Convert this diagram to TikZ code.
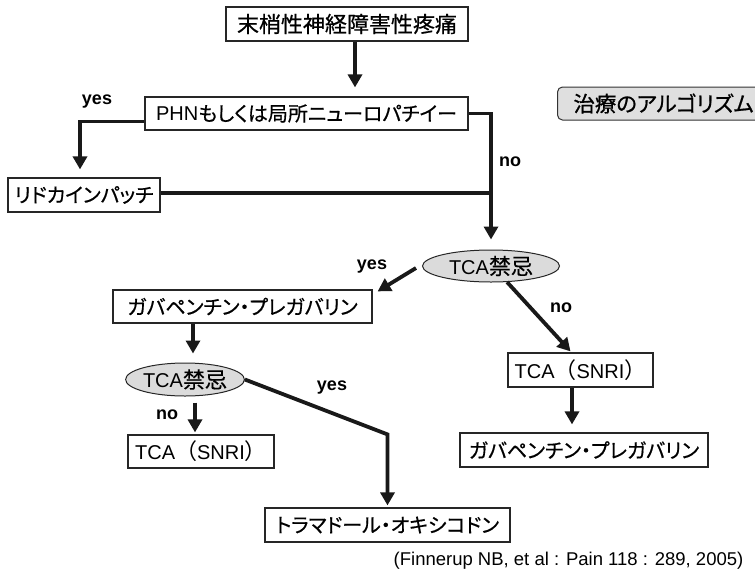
\documentclass[tikz,border=0pt]{standalone}
\usepackage{fontspec}
\setmainfont{Liberation Sans}
\newfontfamily\jp[Scale=1.1,RawFeature=+palt,FakeBold=0.6]{Noto Sans CJK JP}
\newfontfamily\jpk[Scale=1.0,RawFeature=+palt,FakeBold=0.6]{Noto Sans CJK JP}
\newfontfamily\jpt[Scale=1.07,RawFeature=+palt,FakeBold=0.8]{Noto Sans CJK JP}
\newfontfamily\jpf[Scale=1.1]{Noto Sans CJK JP}
\newcommand{\J}[1]{{\jp #1}}
\newcommand{\K}[1]{{\jpk #1}}
\usetikzlibrary{shapes.geometric,arrows.meta}
\begin{document}
\begin{tikzpicture}[x=1pt,y=-1pt,
  font=\fontsize{20}{24}\selectfont,
  box/.style={draw=black!85, line width=1.2pt, fill=white, inner sep=0pt, minimum height=34pt},
  oval/.style={ellipse, draw=black!85, line width=1pt, fill=gray!28, inner sep=0pt},
  arr/.style={draw=black!90, line width=3.8pt, -{Triangle[width=14pt,length=13pt]}},
  lin/.style={draw=black!90, line width=3.4pt},
  lbl/.style={font=\fontsize{18}{20}\selectfont\bfseries, inner sep=0pt}]
\useasboundingbox (0,0) rectangle (755,576);
\fill[white] (0,0) rectangle (755,576);

% nodes
\node[box, minimum width=242pt] (top) at (347,24) {\J{末梢性神経障害性疼痛}};
\node[box, minimum width=323pt, minimum height=33pt] (phn) at (306.5,113.5) {PHN\K{もしくは局所ニューロパチイー}};
\node[box, minimum width=152pt] (lido) at (84,195) {\K{リドカインパッチ}};
\node[oval, minimum width=137pt, minimum height=32pt] (ell1) at (491,266) {TCA\J{禁忌}};
\node[box, minimum width=259pt, minimum height=33pt] (gaba1) at (242.5,306.5) {\K{ガバペンチン・プレガバリン}};
\node[oval, minimum width=114pt, minimum height=33pt] (ell2) at (185,379.5) {TCA\J{禁忌}};
\node[box, minimum width=146pt, minimum height=33pt] (tca1) at (201,451.5) {TCA{\jpf （}SNRI{\jpf ）}};
\node[box, minimum width=245pt] (trama) at (387.5,525) {\K{トラマドール・オキシコドン}};
\node[box, minimum width=145pt] (tca2) at (580.5,370) {TCA{\jpf （}SNRI{\jpf ）}};
\node[box, minimum width=248pt] (gaba2) at (584,450) {\K{ガバペンチン・プレガバリン}};

\node[draw=black!80, line width=1pt, fill=gray!25, rounded corners=5pt, minimum height=33pt,
      inner ysep=0pt, inner xsep=16pt, text width=199pt, align=left, anchor=west] (title) at (557,103.5) {{\jpt 治療のアルゴリズム}};

\node[font=\fontsize{18.5}{22}\selectfont, inner sep=0pt] (cite) at (568.5,561) {(Finnerup NB, et al : Pain 118 : 289, 2005)};

% labels
\node[lbl] (y1) at (97,102) {yes};
\node[lbl, anchor=west] (n1) at (499,162) {no};
\node[lbl] (y2) at (372,267) {yes};
\node[lbl] (n2) at (561,308) {no};
\node[lbl] (n3) at (167,415) {no};
\node[lbl] (y3) at (332,388) {yes};

% connectors
\coordinate (c1) at ([xshift=8pt]top.south);
\draw[arr, shorten >=9pt] (c1) -- (c1 |- phn.north);
\draw[arr] (phn.east) -| ([yshift=10pt]ell1.north);
\draw[arr] ([yshift=-8pt]phn.west) -| ([xshift=-4pt,yshift=8pt]lido.north);
\draw[lin] ([yshift=2pt]lido.east) -- ([yshift=2pt]lido.east -| ell1.north);
\draw[arr] ([xshift=-6pt,yshift=-2pt]ell1.west) -- ([xshift=5pt,yshift=-2pt]gaba1.north east);
\draw[arr] (ell1.-45) -- ([xshift=-10pt,yshift=1pt]tca2.north);
\coordinate (c2) at ([xshift=-49.5pt]gaba1.south);
\draw[arr, shorten >=9pt] (c2) -- (c2 |- ell2.north);
\coordinate (c3) at ([xshift=10pt,yshift=-6pt]ell2.south);
\draw[arr, shorten >=2pt] (c3) -- (c3 |- tca1.north);
\draw[arr] (ell2.east) -- ([yshift=73pt]trama.north) -- ([yshift=2pt]trama.north);
\coordinate (c4) at ([xshift=-8.5pt]tca2.south);
\draw[arr, shorten >=8pt] (c4) -- (c4 |- gaba2.north);
\end{tikzpicture}
\end{document}
